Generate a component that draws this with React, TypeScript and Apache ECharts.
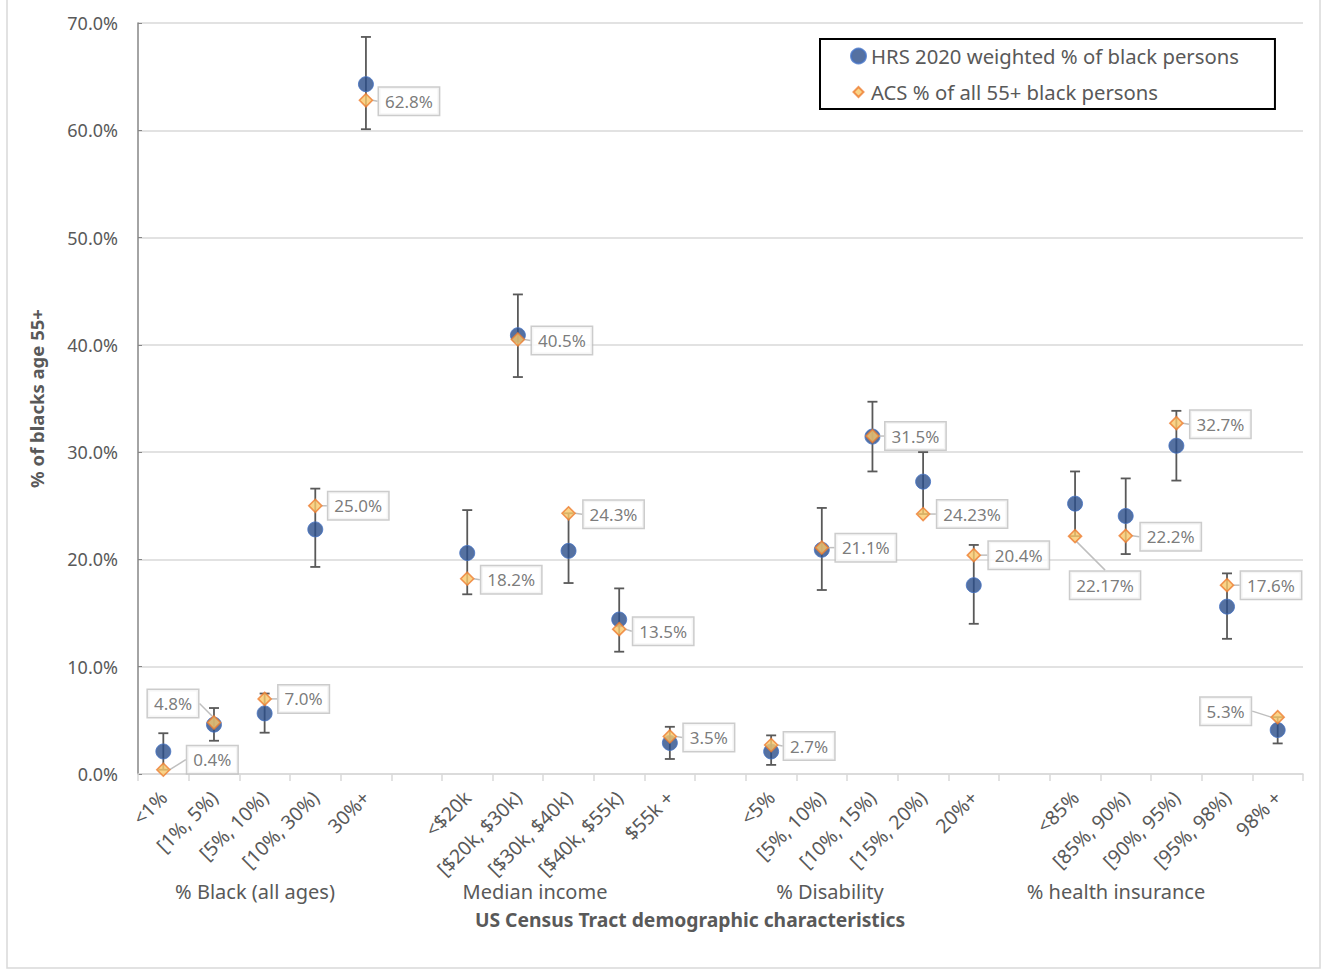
import React, { useEffect, useRef } from 'react';
import * as echarts from 'echarts';

const categories = [
  '<1%', '[1%, 5%)', '[5%, 10%)', '[10%, 30%)', '30%+', '',
  '<$20k', '[$20k, $30k)', '[$30k, $40k)', '[$40k, $55k)', '$55k +', '',
  '<5%', '[5%, 10%)', '[10%, 15%)', '[15%, 20%)', '20%+', '',
  '<85%', '[85%, 90%)', '[90%, 95%)', '[95%, 98%)', '98% +',
];

const hrsValues = [2.1, 4.6, 5.65, 22.8, 64.3, null, 20.6, 40.9, 20.8, 14.4, 2.9, null, 2.1, 20.9, 31.45, 27.25, 17.6, null, 25.2, 24.05, 30.6, 15.6, 4.1];
const hrsLow = [0.4, 3.1, 3.85, 19.3, 60.1, null, 16.75, 37.0, 17.8, 11.4, 1.4, null, 0.85, 17.15, 28.2, 24.23, 14.0, null, 22.17, 20.5, 27.35, 12.6, 2.85];
const hrsHigh = [3.8, 6.15, 7.5, 26.6, 68.7, null, 24.6, 44.7, 24.3, 17.3, 4.4, null, 3.6, 24.8, 34.7, 30.0, 21.35, null, 28.2, 27.55, 33.85, 18.7, 5.3];
const acsValues = [0.4, 4.8, 7.0, 25.0, 62.8, null, 18.2, 40.5, 24.3, 13.5, 3.5, null, 2.7, 21.1, 31.5, 24.23, 20.4, null, 22.17, 22.2, 32.7, 17.6, 5.3];

const groupLabels = ['% Black (all ages)', 'Median income', '% Disability', '% health insurance'];
const seriesNames = ['HRS 2020 weighted % of black persons', 'ACS % of all 55+ black persons'];
const xTitle = 'US Census Tract demographic characteristics';
const yTitle = '% of blacks age 55+';

// label centre offsets from the ACS marker (layout only)
const labelOffsets: [number, number][] = [
  [49, -10], [-41, -19], [39, 0], [43, 0], [43, 1], [0, 0],
  [44, 1], [44, 1], [45, 1], [44, 2], [39, 1], [0, 0],
  [38, 1], [44, 0], [43, 0], [49, 0], [45, 0], [0, 0],
  [30, 49], [45, 1], [44, 1], [44, 0], [-52, -6],
];
const groupLabelX = [255, 535, 830, 1116];

const FONT = 'Noto Sans';
const TXT = '#595959';

function fmt(v: number) {
  const s = String(v);
  const dec = s.includes('.') ? s.split('.')[1].length : 0;
  return (dec > 1 ? s : v.toFixed(1)) + '%';
}

export default function App() {
  const ref = useRef<HTMLDivElement>(null);
  useEffect(() => {
    const chart = echarts.init(ref.current!, null, { renderer: 'svg' });
    const hrsPoints = hrsValues.map((v, i) => ({ i, v })).filter((p) => p.v != null);
    const acsPoints = acsValues.map((v, i) => ({ i, v })).filter((p) => p.v != null);
    const errPoints = hrsLow
      .map((lo, i) => ({ i, lo, hi: hrsHigh[i] }))
      .filter((p) => p.lo != null && p.hi != null);

    const option: any = {
      animation: false,
      backgroundColor: '#fff',
      textStyle: { fontFamily: FONT },
      grid: { left: 138, right: 21, top: 23, bottom: 198, containLabel: false },
      legend: {
        left: 820,
        top: 39,
        orient: 'vertical',
        borderColor: '#000',
        borderWidth: 2,
        padding: [6, 36, 6, 30],
        itemGap: 14,
        itemWidth: 15,
        itemHeight: 15,
        textStyle: { fontFamily: FONT, fontSize: 20.3, color: TXT, lineHeight: 22 },
        data: [
          { name: seriesNames[0], icon: 'circle' },
          { name: seriesNames[1], icon: 'path://M0,0 M7.5,2.5 L12.5,7.5 L7.5,12.5 L2.5,7.5 Z M15,15' },
        ],
      },
      xAxis: {
        type: 'category',
        data: categories,
        boundaryGap: true,
        axisLine: { lineStyle: { color: '#d9d9d9', width: 1.5 } },
        axisTick: { show: true, length: 7, lineStyle: { color: '#d9d9d9', width: 1.5 } },
        axisLabel: { interval: 0, rotate: 45, fontSize: 19.5, color: TXT, margin: 20, fontFamily: FONT },
        splitLine: { show: false },
      },
      yAxis: {
        type: 'value',
        min: 0,
        max: 70,
        interval: 10,
        name: yTitle,
        nameLocation: 'middle',
        nameRotate: 90,
        nameGap: 92,
        nameTextStyle: { fontSize: 18.5, fontWeight: 'bold', color: TXT, fontFamily: FONT },
        axisLine: { show: true, lineStyle: { color: '#868686', width: 1.5 } },
        axisTick: { show: true, inside: true, length: 4, lineStyle: { color: '#868686' } },
        axisLabel: { formatter: (v: number) => v.toFixed(1) + '%', fontSize: 18, color: TXT, margin: 20, fontFamily: FONT },
        splitLine: { lineStyle: { color: '#d9d9d9', width: 1.5 } },
      },
      graphic: [
        {
          type: 'rect',
          shape: { x: 7, y: -2, width: 1313, height: 970 },
          style: { fill: 'none', stroke: '#d9d9d9', lineWidth: 1.5 },
          silent: true,
        },
        ...groupLabels.map((t, k) => ({
          type: 'text',
          x: groupLabelX[k],
          y: 891,
          style: { text: t, fontSize: 20, fill: TXT, fontFamily: FONT, textAlign: 'center', textVerticalAlign: 'middle' },
        })),
        {
          type: 'text',
          x: 690,
          y: 919,
          style: { text: xTitle, fontSize: 19.3, fontWeight: 'bold', fill: TXT, fontFamily: FONT, textAlign: 'center', textVerticalAlign: 'middle' },
        },
      ],
      series: [
        {
          type: 'custom',
          name: 'err',
          silent: true,
          z: 1,
          data: errPoints.map((p) => [p.i, p.lo, p.hi]),
          encode: { x: 0, y: [1, 2] },
          renderItem: (params: any, api: any) => {
            const x = api.value(0);
            const lo = api.coord([x, api.value(1)]);
            const hi = api.coord([x, api.value(2)]);
            const w = 5;
            const style = { stroke: '#595959', lineWidth: 1.8 };
            return {
              type: 'group',
              children: [
                { type: 'line', shape: { x1: lo[0], y1: lo[1], x2: hi[0], y2: hi[1] }, style },
                { type: 'line', shape: { x1: lo[0] - w, y1: lo[1], x2: lo[0] + w, y2: lo[1] }, style },
                { type: 'line', shape: { x1: hi[0] - w, y1: hi[1], x2: hi[0] + w, y2: hi[1] }, style },
              ],
            };
          },
        },
        {
          type: 'scatter',
          name: seriesNames[0],
          z: 2,
          symbol: 'circle',
          symbolSize: 15,
          itemStyle: { color: '#2a4d8a', borderColor: '#4472c4', borderWidth: 1 },
          data: hrsPoints.map((p) => [p.i, p.v]),
        },
        {
          type: 'scatter',
          name: seriesNames[1],
          z: 3,
          symbol: 'diamond',
          symbolSize: [13, 13],
          itemStyle: { color: '#f9c86a', borderColor: '#ed7d31', borderWidth: 1.6 },
          data: acsPoints.map((p) => [p.i, p.v]),
          label: {
            show: true,
            position: 'inside',
            formatter: (p: any) => fmt(p.value[1]),
            fontFamily: FONT,
            fontSize: 17,
            lineHeight: 20,
            color: TXT,
            backgroundColor: '#fff',
            borderColor: '#bfbfbf',
            borderWidth: 1.5,
            padding: [4, 6, 3, 6],
          },
          labelLine: { show: true, lineStyle: { color: '#bfbfbf', width: 1.5 } },
          labelLayout: (params: any) => {
            const i = acsPoints[params.dataIndex].i;
            const [dx, dy] = labelOffsets[i];
            return { dx, dy };
          },
        },
      ],
    };
    chart.setOption(option);
    return () => chart.dispose();
  }, []);
  return (
    <div
      ref={ref}
      style={{ position: 'absolute', left: 0, top: 0, width: 1324, height: 972, background: '#fff' }}
    />
  );
}
